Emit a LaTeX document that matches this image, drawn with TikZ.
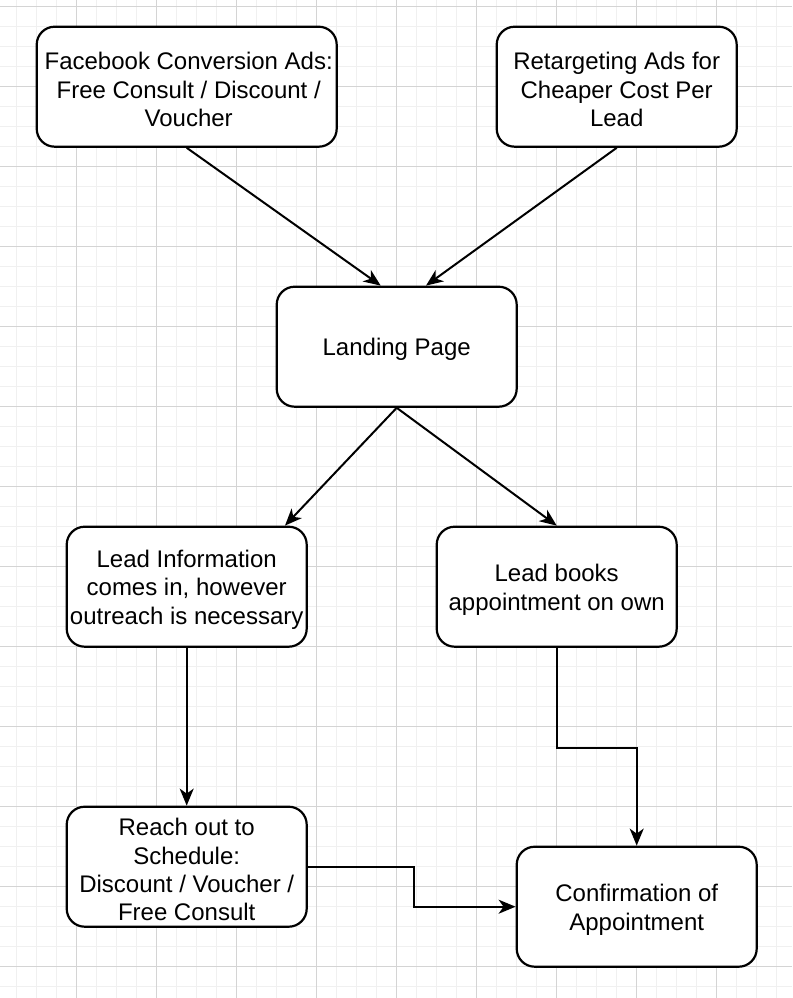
\documentclass[tikz,border=0pt]{standalone}
\usepackage{fontspec}
\setmainfont{Liberation Sans}
\usetikzlibrary{arrows.meta,calc}
\definecolor{gridminor}{HTML}{F0F0F0}
\definecolor{gridmajor}{HTML}{D4D4D4}
\begin{document}
\begin{tikzpicture}[x=1pt,y=-1pt,
  box/.style={draw=black,line width=2.2pt,rounded corners=18pt,fill=white,
    minimum width=240pt,minimum height=120pt,inner sep=0pt},
  txt/.style={inner sep=0pt,align=center,font=\fontsize{24}{28.3}\selectfont},
  arr/.style={draw=black,line width=2pt,-{Stealth[length=17pt,width=14pt,inset=5pt]}}]
\useasboundingbox (0,0) rectangle (792,998);
\fill[white] (0,0) rectangle (792,998);
% grid
\foreach \k in {0,...,38} {\draw[gridminor,line width=1pt] ({16.7+20*\k},0) -- ({16.7+20*\k},998);}
\foreach \k in {0,...,49} {\draw[gridminor,line width=1pt] (0,{6.7+20*\k}) -- (792,{6.7+20*\k});}
\foreach \k in {0,...,8} {\draw[gridmajor,line width=1pt] ({76.7+80*\k},0) -- ({76.7+80*\k},998);}
\foreach \k in {0,...,12} {\draw[gridmajor,line width=1pt] (0,{6.7+80*\k}) -- (792,{6.7+80*\k});}
% boxes
\node[box,minimum width=300pt] (fb) at (186.7,86.7) {};
\node[box] (rt) at (616.7,86.7) {};
\node[box] (lp) at (396.7,346.7) {};
\node[box] (li) at (186.7,586.7) {};
\node[box] (lb) at (556.7,586.7) {};
\node[box] (ro) at (186.7,866.7) {};
\node[box] (cf) at (636.7,906.7) {};
% texts
\node[txt] (fbt) at ($(fb.center)+(2,3)$) {Facebook Conversion Ads:\\Free Consult / Discount /\\Voucher};
\node[txt] (rtt) at ($(rt.center)+(0,3)$) {Retargeting Ads for\\Cheaper Cost Per\\Lead};
\node[txt] (lpt) at ($(lp.center)+(0,3)$) {Landing Page};
\node[txt] (lit) at ($(li.center)+(0,3)$) {Lead Information\\comes in, however\\outreach is necessary};
\node[txt] (lbt) at ($(lb.center)+(0,3)$) {Lead books\\appointment on own};
\node[txt] (rot) at ($(ro.center)+(0,3)$) {Reach out to\\Schedule:\\Discount / Voucher /\\Free Consult};
\node[txt] (cft) at ($(cf.center)+(0,3)$) {Confirmation of\\Appointment};
% connectors
\coordinate (lpinL) at ($(lp.north)+(-16,0)$);
\coordinate (lpinR) at ($(lp.north)+(29.3,0)$);
\coordinate (liin) at ($(li.north)+(98.3,0)$);
\draw[arr] (fb.south) -- (lpinL);
\draw[arr] (rt.south) -- (lpinR);
\draw[arr] (lp.south) -- (liin);
\draw[arr] (lp.south) -- (lb.north);
\draw[arr] (li.south) -- (ro.north);
\draw[arr] (lb.south) -- ++(0,100) -| (cf.north);
\draw[arr] (ro.east) -- ++(106.6,0) |- (cf.west);
\end{tikzpicture}
\end{document}
